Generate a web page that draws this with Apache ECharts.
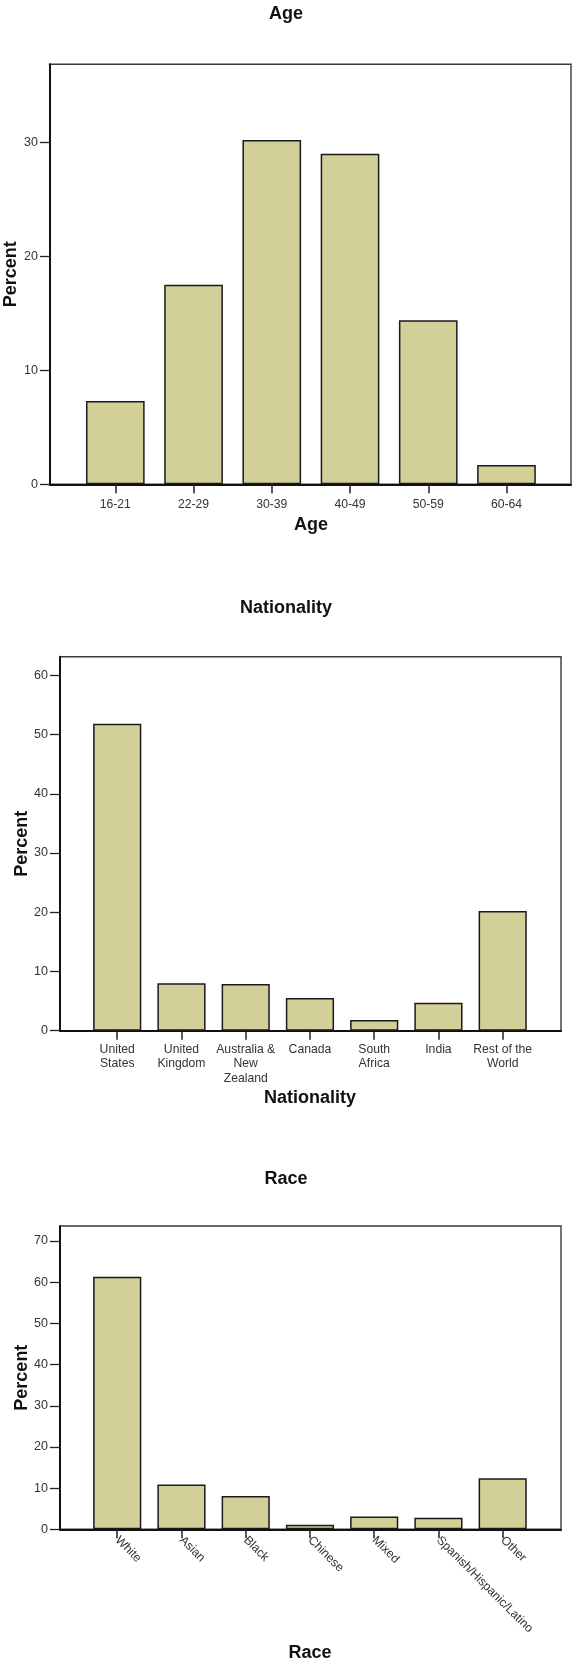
<!DOCTYPE html>
<html>
<head>
<meta charset="utf-8">
<script src="https://cdn.jsdelivr.net/npm/echarts@6/dist/echarts.min.js"></script>
<style>
  html, body { margin: 0; padding: 0; background: #ffffff; }
  #chart { width: 572px; height: 1680px; }
</style>
</head>
<body>
<div id="chart"></div>
<script>
// ---- data ----
const ageCategories = ['16-21', '22-29', '30-39', '40-49', '50-59', '60-64'];
const agePercent = [7.3, 17.5, 30.2, 29.0, 14.4, 1.7];
const ageTicks = [0, 10, 20, 30];

const nationalityCategories = ['United\nStates', 'United\nKingdom', 'Australia &\nNew\nZealand', 'Canada', 'South\nAfrica', 'India', 'Rest of the\nWorld'];
const nationalityPercent = [51.8, 8.0, 7.9, 5.5, 1.8, 4.7, 20.2];
const nationalityTicks = [0, 10, 20, 30, 40, 50, 60];

const raceCategories = ['White', 'Asian', 'Black', 'Chinese', 'Mixed', 'Spanish/Hispanic/Latino', 'Other'];
const racePercent = [61.3, 10.9, 8.1, 1.1, 3.1, 2.8, 12.4];
const raceTicks = [0, 10, 20, 30, 40, 50, 60, 70];

const axisMaxima = [36.84, 63.14, 73.65];

// ---- layout / style ----
const FONT = '"Liberation Sans", Arial, sans-serif';
const BAR_FILL = '#d3cf99';
const panels = [
  { title: 'Age', titleTop: 5, cats: ageCategories, vals: agePercent, ticks: ageTicks, max: axisMaxima[0],
    frame: { left: 50, top: 64.3, width: 521, height: 420 }, dataLeft: 76.2, dataWidth: 469.4,
    xName: 'Age', xNameGap: 32, labelMargin: 12.75, rotate: 0, yNameGap: 30 },
  { title: 'Nationality', titleTop: 599.3, cats: nationalityCategories, vals: nationalityPercent, ticks: nationalityTicks, max: axisMaxima[1],
    frame: { left: 60, top: 656.7, width: 501, height: 374 }, dataLeft: 85.1, dataWidth: 449.7,
    xName: 'Nationality', xNameGap: 58.6, labelMargin: 11.4, rotate: 0, yNameGap: 29.3 },
  { title: 'Race', titleTop: 1170.3, cats: raceCategories, vals: racePercent, ticks: raceTicks, max: axisMaxima[2],
    frame: { left: 60, top: 1226, width: 501, height: 303.3 }, dataLeft: 85.1, dataWidth: 449.7,
    xName: 'Race', xNameGap: 115, labelMargin: 9, rotate: -45, yNameGap: 29.3 }
];

const option = {
  animation: false,
  backgroundColor: '#ffffff',
  textStyle: { fontFamily: FONT },
  title: [], grid: [], xAxis: [], yAxis: [], series: []
};

panels.forEach(function (p, i) {
  option.title.push({
    text: p.title, left: 'center', top: p.titleTop, padding: 0,
    textStyle: { fontFamily: FONT, fontSize: 18, fontWeight: 'bold', color: '#111' }
  });
  // frame grid
  option.grid.push({
    left: p.frame.left, top: p.frame.top, width: p.frame.width, height: p.frame.height,
    show: true, borderColor: '#3a3a3a', borderWidth: 1.4, backgroundColor: 'transparent',
    containLabel: false, outerBoundsMode: 'none'
  });
  // data grid
  option.grid.push({
    left: p.dataLeft, top: p.frame.top, width: p.dataWidth, height: p.frame.height,
    show: false, containLabel: false, outerBoundsMode: 'none'
  });
  const fg = i * 2, dg = i * 2 + 1;
  // frame axes
  option.xAxis.push({
    type: 'value', gridIndex: fg, min: 0, max: 1,
    axisLine: { show: true, lineStyle: { color: '#111', width: 2 } },
    axisTick: { show: false }, axisLabel: { show: false }, splitLine: { show: false }
  });
  option.yAxis.push({
    type: 'value', gridIndex: fg, min: 0, max: p.max,
    name: 'Percent', nameLocation: 'middle', nameGap: p.yNameGap, nameMoveOverlap: false,
    nameTextStyle: { fontFamily: FONT, fontSize: 18, fontWeight: 'bold', color: '#111' },
    axisLine: { show: true, onZero: false, lineStyle: { color: '#111', width: 2 } },
    axisTick: { show: true, length: 10, customValues: p.ticks, lineStyle: { color: '#222', width: 1.3 } },
    axisLabel: { show: true, customValues: p.ticks, margin: 12, fontFamily: FONT, fontSize: 12.5, color: '#333' },
    splitLine: { show: false }
  });
  // data axes
  option.xAxis.push({
    type: 'category', gridIndex: dg, data: p.cats,
    name: p.xName, nameLocation: 'middle', nameGap: p.xNameGap, nameMoveOverlap: false,
    nameTextStyle: { fontFamily: FONT, fontSize: 18, fontWeight: 'bold', color: '#111' },
    axisLine: { show: false },
    axisTick: { show: true, alignWithLabel: true, length: 9, lineStyle: { color: '#222', width: 1.5 } },
    axisLabel: { show: true, interval: 0, margin: p.labelMargin, rotate: p.rotate, fontFamily: FONT, fontSize: 12.2, lineHeight: 14.5, color: '#333' },
    splitLine: { show: false }
  });
  option.yAxis.push({
    type: 'value', gridIndex: dg, min: 0, max: p.max, show: false
  });
  option.series.push({
    type: 'bar', xAxisIndex: i * 2 + 1, yAxisIndex: i * 2 + 1,
    data: p.vals, barCategoryGap: '25%',
    itemStyle: { color: BAR_FILL, borderColor: '#1a1a1a', borderWidth: 1.5 },
    silent: true
  });
});

const chart = echarts.init(document.getElementById('chart'), null, { renderer: 'canvas' });
chart.setOption(option);
</script>
</body>
</html>
